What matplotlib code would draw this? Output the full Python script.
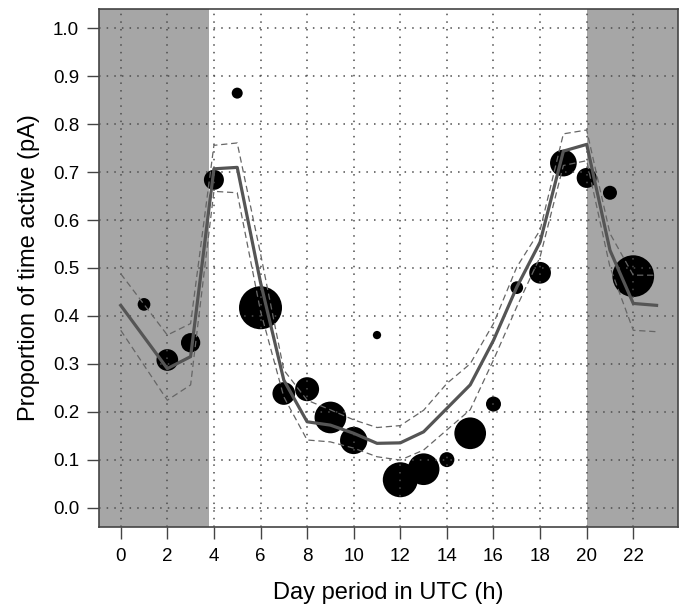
import matplotlib
matplotlib.use("Agg")
import matplotlib.pyplot as plt
import numpy as np

# hourly observations (hour, proportion active, relative weight -> marker size)
obs_hour = [1, 2, 3, 4, 5, 6, 7, 8, 9, 10, 11, 12, 13, 14, 15, 16, 17, 18, 19, 20, 21, 22]
obs_pa = [0.424, 0.308, 0.344, 0.684, 0.865, 0.417, 0.238, 0.247, 0.188, 0.140, 0.360,
          0.058, 0.080, 0.100, 0.155, 0.216, 0.459, 0.490, 0.719, 0.688, 0.657, 0.483]
obs_weight = [12.7, 21.7, 19.3, 20, 11, 43, 22.7, 24, 31.7, 27.3, 8.3,
              35, 31.7, 15, 31.7, 15, 12.7, 21.7, 26.7, 20, 14, 41.7]

# fitted model and its confidence band
fit_hour = list(range(24))
fit_pa = [0.422, 0.356, 0.290, 0.315, 0.707, 0.710, 0.470, 0.266, 0.179, 0.172, 0.155, 0.134,
          0.135, 0.158, 0.207, 0.256, 0.349, 0.460, 0.554, 0.744, 0.758, 0.537, 0.426, 0.422]
fit_hi = [0.488, 0.424, 0.360, 0.384, 0.756, 0.761, 0.530, 0.287, 0.224, 0.204, 0.183, 0.167,
          0.171, 0.203, 0.259, 0.300, 0.384, 0.502, 0.579, 0.780, 0.788, 0.572, 0.485, 0.485]
fit_lo = [0.370, 0.297, 0.224, 0.256, 0.660, 0.657, 0.410, 0.231, 0.141, 0.137, 0.124, 0.106,
          0.099, 0.120, 0.162, 0.204, 0.308, 0.419, 0.523, 0.714, 0.724, 0.502, 0.370, 0.367]

# night periods (hours)
sunrise = 3.8
sunset = 20.0

xticks = list(range(0, 24, 2))
yticks = [round(v * 0.1, 1) for v in range(11)]

plt.rcParams["font.family"] = ["Liberation Sans", "DejaVu Sans"]

fig = plt.figure(figsize=(6.81, 6.07), dpi=100)
ax = fig.add_axes([0.1458, 0.1323, 0.8498, 0.8524])

xmin, xmax = -0.92, 23.92
ax.set_xlim(xmin, xmax)
ax.set_ylim(-0.04, 1.04)

ax.axvspan(xmin, sunrise, color="#a6a6a6", lw=0, zorder=0)
ax.axvspan(sunset, xmax, color="#a6a6a6", lw=0, zorder=0)

sizes = [(w * 0.72) ** 2 for w in obs_weight]
ax.scatter(obs_hour, obs_pa, s=sizes, c="black", lw=0, zorder=2)

for xv in xticks:
    ax.axvline(xv, color="#4d4d4d", lw=1.1, ls=(0, (1, 4)), zorder=3)
for yv in yticks:
    ax.axhline(yv, color="#4d4d4d", lw=1.1, ls=(0, (1, 4)), zorder=3)

ax.plot(fit_hour, fit_hi, color="#666666", lw=0.9, ls=(0, (5, 3)), zorder=4)
ax.plot(fit_hour, fit_lo, color="#666666", lw=0.9, ls=(0, (5, 3)), zorder=4)
ax.plot(fit_hour, fit_pa, color="#555555", lw=2.3, zorder=5)

ax.set_xticks(xticks)
ax.set_yticks(yticks)
ax.set_yticklabels([f"{v:.1f}" for v in yticks])
ax.tick_params(direction="out", length=8.5, width=1.0, color="#444444",
               labelsize=13.5, pad=6)
ax.tick_params(axis="x", pad=7)
for sp in ax.spines.values():
    sp.set_color("#444444")
    sp.set_linewidth(1.2)

ax.set_xlabel("Day period in UTC (h)", fontsize=17, labelpad=12)
ax.set_ylabel("Proportion of time active (pA)", fontsize=17, labelpad=9)

fig.savefig("out.png", dpi=100)
